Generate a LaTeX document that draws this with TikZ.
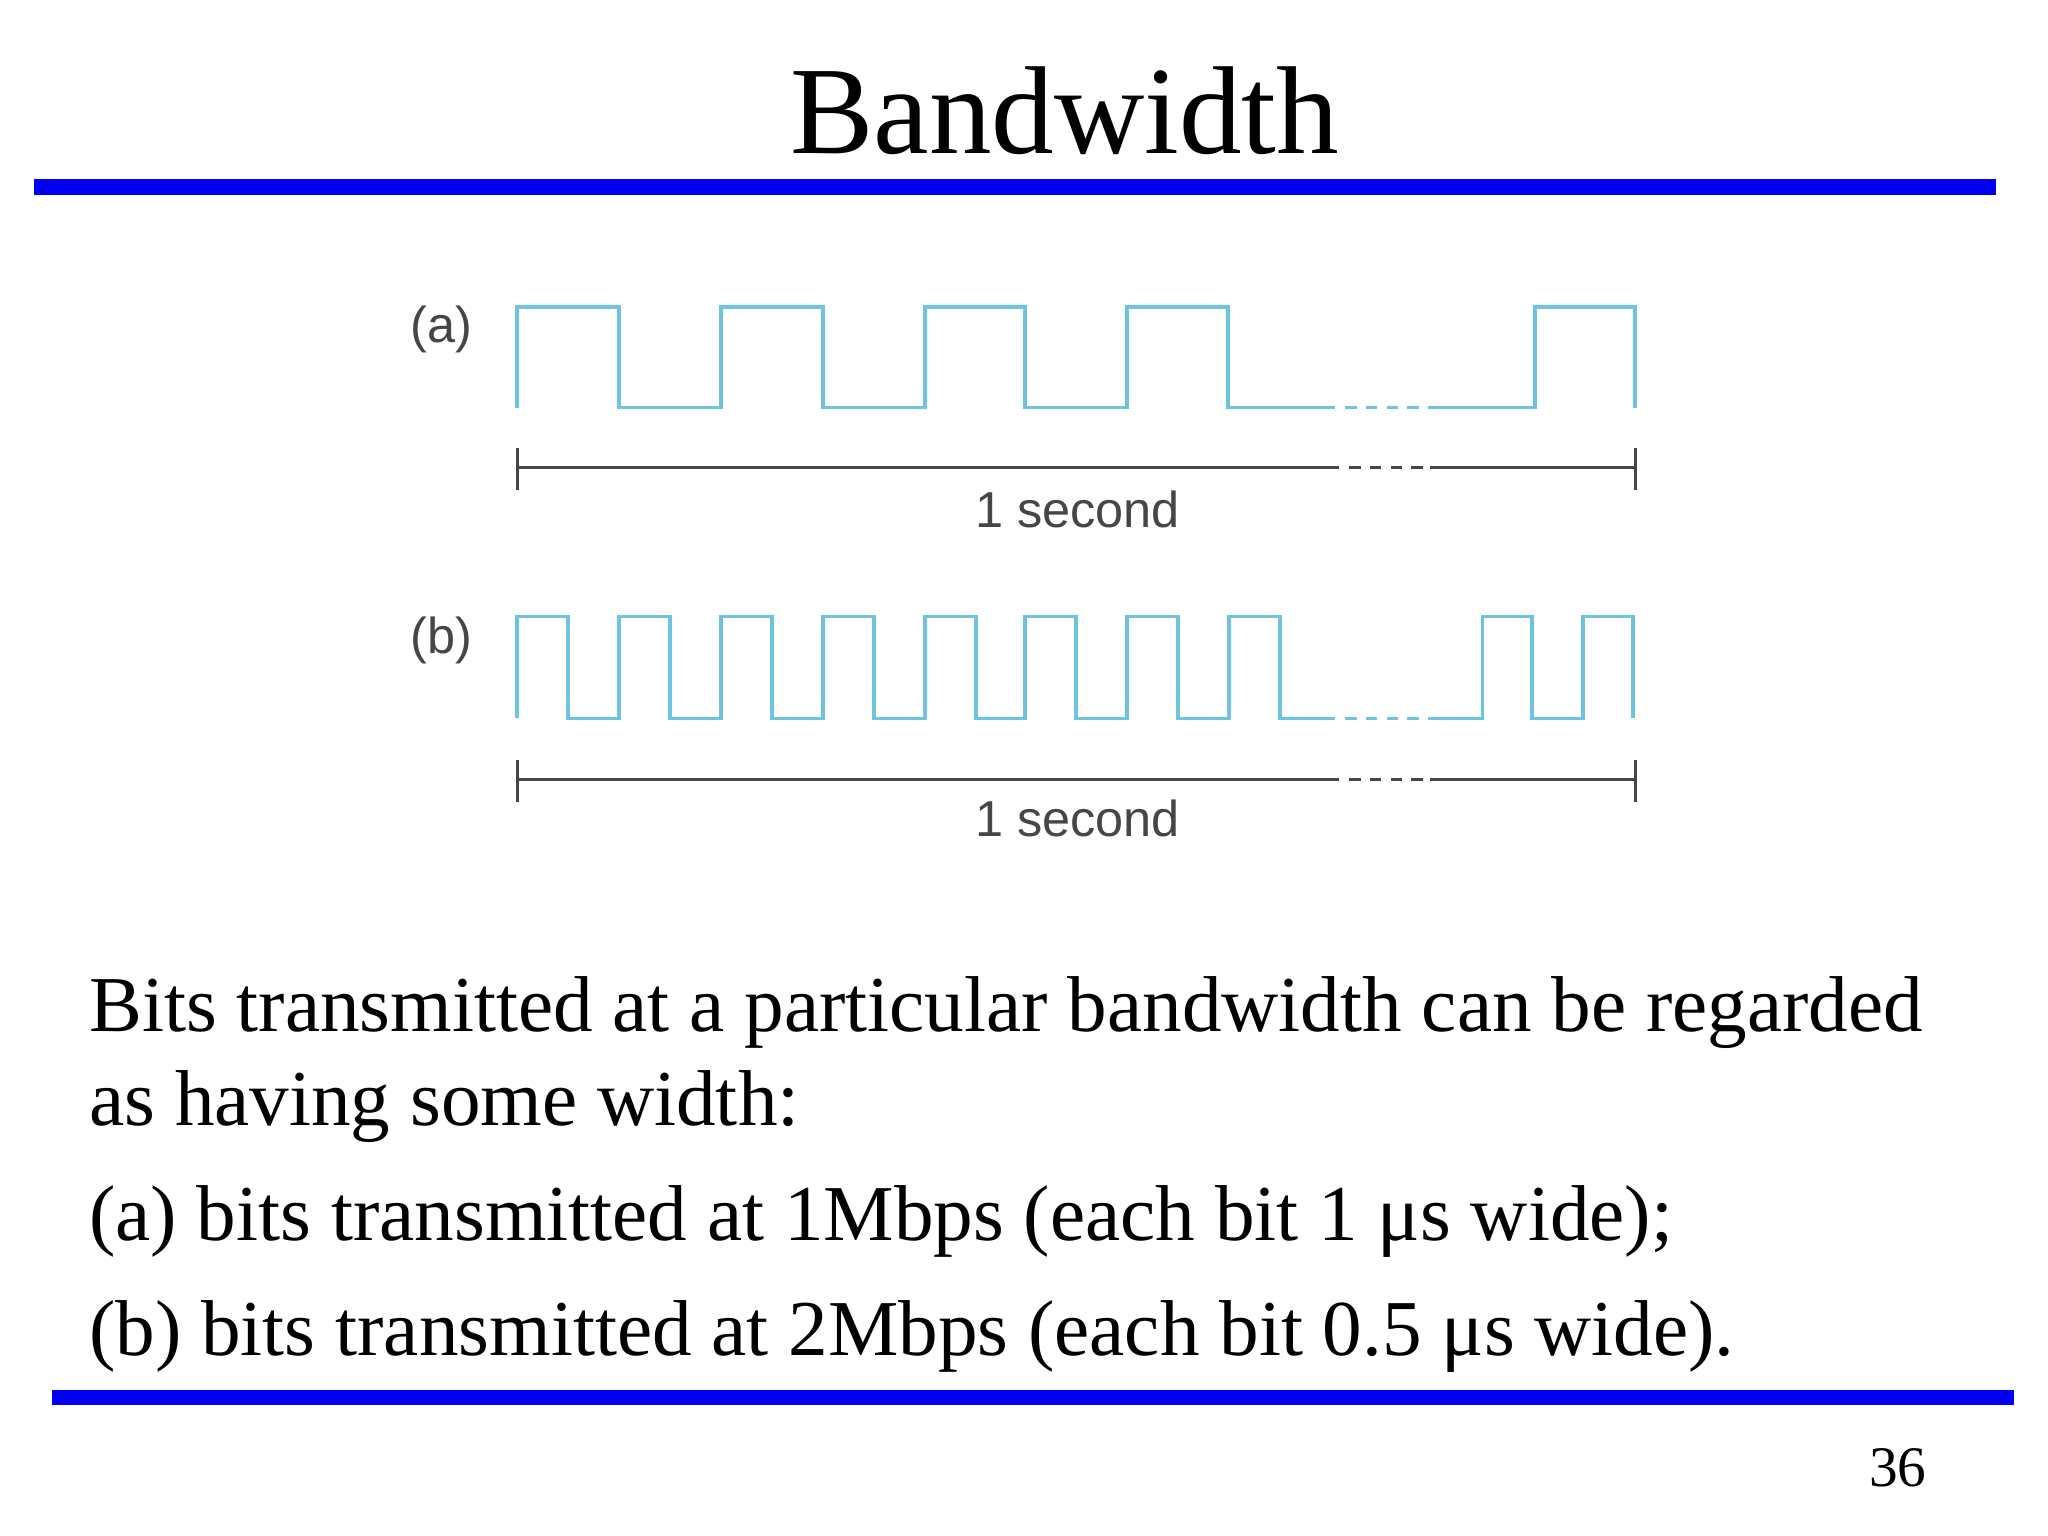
\documentclass[tikz,border=0pt]{standalone}
\usepackage{fontspec}
\setmainfont{Liberation Serif}
\newfontfamily\labfont{Liberation Sans}
\definecolor{barblue}{RGB}{0,0,240}
\definecolor{wave}{RGB}{110,195,225}
\definecolor{lab}{RGB}{70,70,70}
\begin{document}
\begin{tikzpicture}[x=0.02cm,y=-0.02cm,
  bar/.style={fill=barblue,draw=none},
  wv/.style={draw=wave,line width=1.6pt},
  dim/.style={draw=lab,line width=1.2pt},
  dsh/.style={dash pattern=on 5pt off 4pt},
  lbl/.style={font=\labfont\fontsize{22}{26}\selectfont,text=lab},
  body/.style={font=\fontsize{34.5}{40}\selectfont,anchor=base west,inner sep=0}]
\useasboundingbox (0,0) rectangle (1568,1176);
\fill[white] (0,0) rectangle (1568,1176);
\node[font=\fontsize{54.5}{60}\selectfont] (title) at (815,85) {Bandwidth};
\fill[bar] (26,137) rectangle (1528,149);
\fill[bar] (40,1064) rectangle (1542,1076);
% (a)
\node[lbl] (la) at (338,252) {(a)};
\draw[wv] (396,312) -- (396,235) -- (474,235) -- (474,312) -- (552,312) -- (552,235) -- (630,235) -- (630,312) -- (708,312) -- (708,235) -- (785,235) -- (785,312) -- (863,312) -- (863,235) -- (940,235) -- (940,312) -- (1022,312);
\draw[wv,dsh] (1030,312) -- (1095,312);
\draw[wv] (1095,312) -- (1175,312) -- (1175,235) -- (1252,235) -- (1252,312);
\draw[dim] (396,343) -- (396,375);
\draw[dim] (1252,343) -- (1252,375);
\draw[dim] (396,358) -- (1025,358);
\draw[dim,dsh] (1033,358) -- (1095,358);
\draw[dim] (1095,358) -- (1252,358);
\node[lbl] (sa) at (825,390) {1 second};
% (b)
\node[lbl] (lb) at (338,490) {(b)};
\draw[wv] (396,550) -- (396,472) -- (435,472) -- (435,550) -- (474,550) -- (474,472) -- (513,472) -- (513,550) -- (552,550) -- (552,472) -- (591,472) -- (591,550) -- (630,550) -- (630,472) -- (669,472) -- (669,550) -- (708,550) -- (708,472) -- (747,472) -- (747,550) -- (785,550) -- (785,472) -- (824,472) -- (824,550) -- (863,550) -- (863,472) -- (902,472) -- (902,550) -- (941,550) -- (941,472) -- (980,472) -- (980,550) -- (1022,550);
\draw[wv,dsh] (1030,550) -- (1095,550);
\draw[wv] (1095,550) -- (1135,550) -- (1135,472) -- (1173,472) -- (1173,550) -- (1212,550) -- (1212,472) -- (1250,472) -- (1250,550);
\draw[dim] (396,582) -- (396,614);
\draw[dim] (1252,582) -- (1252,614);
\draw[dim] (396,597) -- (1025,597);
\draw[dim,dsh] (1033,597) -- (1095,597);
\draw[dim] (1095,597) -- (1252,597);
\node[lbl] (sb) at (825,627) {1 second};
% text
\node[body] (t1) at (68,790) {Bits transmitted at a particular bandwidth can be regarded};
\node[body] (t2) at (68,862) {as having some width:};
\node[body] (t3) at (68,950) {(a) bits transmitted at 1Mbps (each bit 1 μs wide);};
\node[body] (t4) at (68,1038) {(b) bits transmitted at 2Mbps (each bit 0.5 μs wide).};
\node[font=\fontsize{25}{30}\selectfont] (pg) at (1453,1124) {36};
\end{tikzpicture}
\end{document}
